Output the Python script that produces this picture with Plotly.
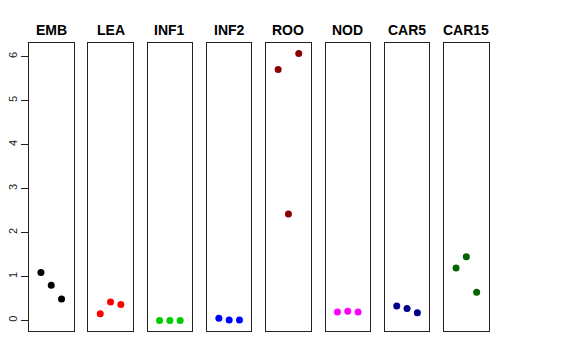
import plotly.graph_objects as go

categories = ["EMB", "LEA", "INF1", "INF2", "ROO", "NOD", "CAR5", "CAR15"]
positions = [1, 2, 3]
values = {
    "EMB": [1.09, 0.80, 0.49],
    "LEA": [0.15, 0.42, 0.36],
    "INF1": [0.0, 0.0, 0.0],
    "INF2": [0.05, 0.01, 0.01],
    "ROO": [5.71, 2.42, 6.07],
    "NOD": [0.19, 0.21, 0.19],
    "CAR5": [0.33, 0.27, 0.175],
    "CAR15": [1.19, 1.45, 0.64],
}
colors = ["#000000", "#FF0000", "#00CD00", "#0000FF", "#8B0000", "#FF00FF", "#00008B", "#006400"]
y_ticks = [0, 1, 2, 3, 4, 5, 6]

W, H = 576, 360
OFF = 8.0  # page body margin
fig = go.Figure()
left0, step, pw = 29.0 - OFF, 59.3, 44.5
ytop, ybot = 43.0 - OFF, 331.0 - OFF
ytitle = 29.5 - OFF

for i, (cat, col) in enumerate(zip(categories, colors)):
    n = "" if i == 0 else str(i + 1)
    x0 = left0 + i * step
    fig.add_trace(go.Scatter(
        x=positions, y=values[cat], mode="markers",
        marker=dict(color=col, size=7, line=dict(width=0)),
        xaxis="x" + n, yaxis="y" + n, showlegend=False, hoverinfo="y"))
    xa = dict(domain=[x0 / W, (x0 + pw) / W], range=[-0.16, 4.16],
              showgrid=False, zeroline=False, showticklabels=False, ticks="",
              showline=True, linecolor="#222", linewidth=1, mirror=True,
              anchor="y" + n, fixedrange=True, automargin=False)
    ya = dict(domain=[(H - ybot) / H, (H - ytop) / H], range=[-0.24, 6.31],
              showgrid=False, zeroline=False,
              showline=True, linecolor="#222", linewidth=1, mirror=True,
              anchor="x" + n, fixedrange=True, automargin=False)
    if i == 0:
        ya.update(tickvals=y_ticks, ticktext=[str(t) for t in y_ticks],
                  ticks="outside", ticklen=7, tickcolor="#222", tickangle=-90,
                  tickfont=dict(family="Liberation Sans, Arial", size=11, color="#222"))
    else:
        ya.update(showticklabels=False, ticks="")
    fig.update_layout(**{"xaxis" + n: xa, "yaxis" + n: ya})
    fig.add_annotation(text="<b>" + cat + "</b>", x=(x0 + pw / 2) / W, y=(H - ytitle) / H,
                       xref="paper", yref="paper", showarrow=False,
                       xanchor="center", yanchor="middle",
                       font=dict(family="Liberation Sans, Arial", size=14, color="#000"))

fig.update_layout(width=W, height=H, margin=dict(l=0, r=0, t=0, b=0),
                  paper_bgcolor="white", plot_bgcolor="white")
fig.write_html("out.html")
